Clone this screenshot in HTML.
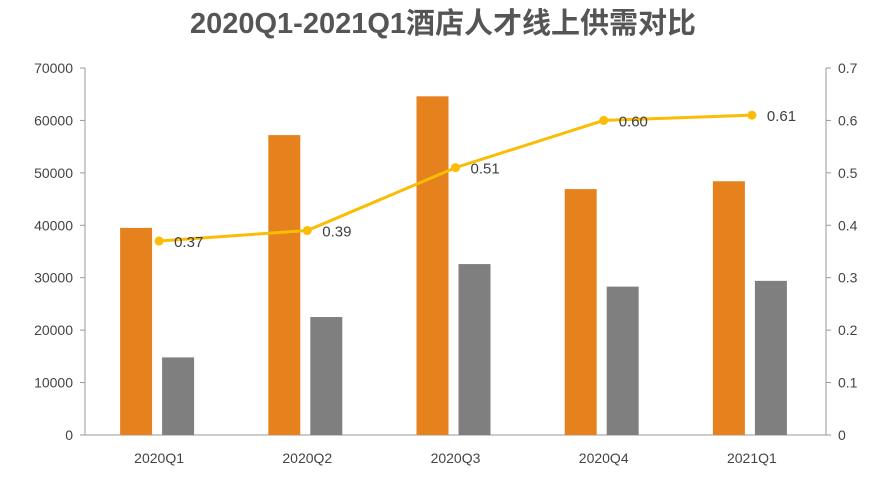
<!DOCTYPE html>
<html><head><meta charset="utf-8"><style>
body{margin:0;background:#fff;width:885px;height:482px;overflow:hidden;font-family:"Liberation Sans","Noto Sans CJK SC",sans-serif}
</style></head><body>
<svg id="c" width="885" height="482" xmlns="http://www.w3.org/2000/svg"></svg>
<script>
const categories=["2020Q1","2020Q2","2020Q3","2020Q4","2021Q1"];
const supply=[39500,57200,64600,46900,48400];
const demand=[14800,22500,32600,28300,29400];
const ratio=[0.37,0.39,0.51,0.60,0.61];
const ratioLabels=["0.37","0.39","0.51","0.60","0.61"];
const leftTicks=[0,10000,20000,30000,40000,50000,60000,70000];
const rightTicks=["0","0.1","0.2","0.3","0.4","0.5","0.6","0.7"];
const svg=document.getElementById('c');
const NS="http://www.w3.org/2000/svg";
const X0=85,X1=826,Y0=435,Y1=68;
const yL=v=>Y0-(v/70000)*(Y0-Y1);
const yR=v=>Y0-(v/0.7)*(Y0-Y1);
const bw=(X1-X0)/categories.length;
const cx=i=>X0+bw*(i+0.5);
function mk(t,a,txt){const e=document.createElementNS(NS,t);for(const k in a)e.setAttribute(k,a[k]);if(txt!=null)e.textContent=txt;svg.appendChild(e);return e;}
let t=mk('text',{x:443,y:33,'text-anchor':'middle','font-size':29,'font-weight':'bold',fill:'#555'},'2020Q1-2021Q1酒店人才线上供需对比');


let a=mk('line',{x1:X0,y1:Y1,x2:X0,y2:Y0,stroke:'#999'});


a=mk('line',{x1:X1,y1:Y1,x2:X1,y2:Y0,stroke:'#999'});


a=mk('line',{x1:X0,y1:Y0,x2:X1,y2:Y0,stroke:'#999'});


leftTicks.forEach((v,i)=>{
 let e=mk('text',{x:X0-12,y:yL(v)+5,'text-anchor':'end','font-size':14,fill:'#444'},String(v));
 
 
 mk('line',{x1:X0-5,y1:yL(v),x2:X0,y2:yL(v),stroke:'#999'});
 e=mk('text',{x:X1+12,y:yL(v)+5,'text-anchor':'start','font-size':14,fill:'#444'},rightTicks[i]);
 
 
 mk('line',{x1:X1,y1:yL(v),x2:X1+5,y2:yL(v),stroke:'#999'});
});
categories.forEach((c,i)=>{
 let e=mk('text',{x:cx(i),y:Y0+28,'text-anchor':'middle','font-size':14,fill:'#444'},c);
 
 
 e=mk('rect',{x:cx(i)-39,y:yL(supply[i]),width:32,height:Y0-yL(supply[i]),fill:'#e6821e'});
 
 
 e=mk('rect',{x:cx(i)+3,y:yL(demand[i]),width:32,height:Y0-yL(demand[i]),fill:'#7f7f7f'});
 
 
});
let l=mk('polyline',{points:ratio.map((v,i)=>cx(i)+','+yR(v)).join(' '),fill:'none',stroke:'#fbbc05','stroke-width':3});


ratio.forEach((v,i)=>{
 let e=mk('circle',{cx:cx(i),cy:yR(v),r:4.5,fill:'#fbbc05'});
 
 
 e=mk('text',{x:cx(i)+15,y:yR(v)+6,'font-size':15,fill:'#404040'},ratioLabels[i]);
 
 
});
</script>
</body></html>
